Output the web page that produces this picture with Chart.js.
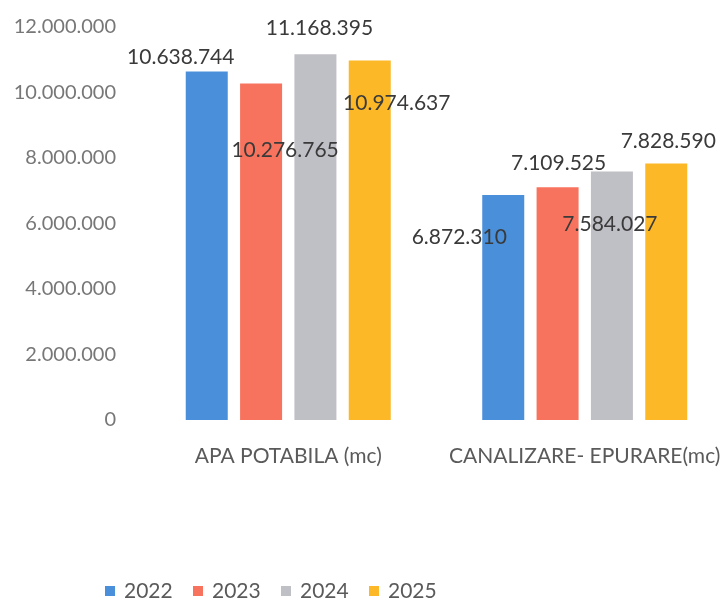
<!DOCTYPE html>
<html>
<head>
<meta charset="utf-8">
<script src="https://cdn.jsdelivr.net/npm/chart.js@4.4.1/dist/chart.umd.min.js"></script>
<style>
  html, body { margin: 0; padding: 0; background: #fff; overflow: hidden; }
  #wrap { width: 720px; height: 600px; overflow: hidden; position: relative; }
  #box { width: 733px; height: 600px; position: absolute; left: 0; top: 0; }
</style>
</head>
<body>
<div id="wrap"><div id="box"><canvas id="c"></canvas></div></div>
<script>
const categories = ['APA POTABILA (mc)', 'CANALIZARE- EPURARE(mc)'];
const seriesNames = ['2022', '2023', '2024', '2025'];
const values2022 = [10638744, 6872310];
const values2023 = [10276765, 7109525];
const values2024 = [11168395, 7584027];
const values2025 = [10974637, 7828590];
const yTicks = [0, 2000000, 4000000, 6000000, 8000000, 10000000, 12000000];
const colors = ['#4A8FD9', '#F7735E', '#BFBFC6', '#FDB827'];

// label placement offsets (relative to bar top), as in the original scan
const labelOffsets = [
  [[-26, -14], [-44, 42]],
  [[24, 67], [1, -24]],
  [[4, -26], [-2, 53]],
  [[27, 43], [2, -22]]
];

function fmt(v) {
  return String(v).replace(/\B(?=(\d{3})+(?!\d))/g, '.');
}

const allValues = [values2022, values2023, values2024, values2025];

const labelPlugin = {
  id: 'valueLabels',
  afterDatasetsDraw(chart) {
    const ctx = chart.ctx;
    ctx.save();
    ctx.font = '21px Lato';
    ctx.fillStyle = '#3a3a3a';
    ctx.textAlign = 'center';
    ctx.textBaseline = 'middle';
    chart.data.datasets.forEach((ds, i) => {
      const meta = chart.getDatasetMeta(i);
      meta.data.forEach((bar, j) => {
        const off = labelOffsets[i][j];
        ctx.fillText(fmt(ds.data[j]), bar.x + off[0], bar.y + off[1]);
      });
    });
    ctx.restore();
  }
};

const legendPlugin = {
  id: 'customLegend',
  afterDraw(chart) {
    const ctx = chart.ctx;
    ctx.save();
    ctx.font = '21px Lato';
    ctx.textBaseline = 'middle';
    ctx.textAlign = 'left';
    let x = 105;
    const y = 591;
    chart.data.datasets.forEach((ds) => {
      ctx.fillStyle = ds.backgroundColor;
      ctx.fillRect(x, y - 5, 10, 10);
      ctx.fillStyle = '#5a5a5a';
      ctx.fillText(ds.label, x + 19, y);
      x += 88;
    });
    ctx.restore();
  }
};

function noPad(s) {
  s.paddingTop = 0; s.paddingBottom = 0; s.paddingLeft = 0; s.paddingRight = 0;
}

new Chart(document.getElementById('c'), {
  type: 'bar',
  data: {
    labels: categories,
    datasets: seriesNames.map((name, i) => ({
      label: name,
      data: allValues[i],
      backgroundColor: colors[i],
      barPercentage: 0.773,
      categoryPercentage: 0.733
    }))
  },
  options: {
    responsive: true,
    maintainAspectRatio: false,
    animation: false,
    layout: { padding: { top: 27, bottom: 130, left: 0, right: 0 } },
    plugins: {
      legend: { display: false },
      tooltip: { enabled: false }
    },
    scales: {
      x: {
        grid: { display: false, drawTicks: false },
        border: { display: false },
        ticks: {
          color: '#5a5a5a',
          font: { family: 'Lato', size: 21 },
          padding: 24,
          maxRotation: 0,
          autoSkip: false
        },
        afterFit(s) { s.height = 50; noPad(s); }
      },
      y: {
        min: 0,
        max: 12000000,
        grid: { display: false, drawTicks: false },
        border: { display: false },
        afterBuildTicks(s) { s.ticks = yTicks.map(v => ({ value: v })); },
        ticks: {
          color: '#777777',
          font: { family: 'Lato', size: 20 },
          padding: 24,
          callback: (v) => fmt(v)
        },
        afterFit(s) { s.width = 140; noPad(s); }
      }
    }
  },
  plugins: [labelPlugin, legendPlugin]
});
</script>
</body>
</html>
